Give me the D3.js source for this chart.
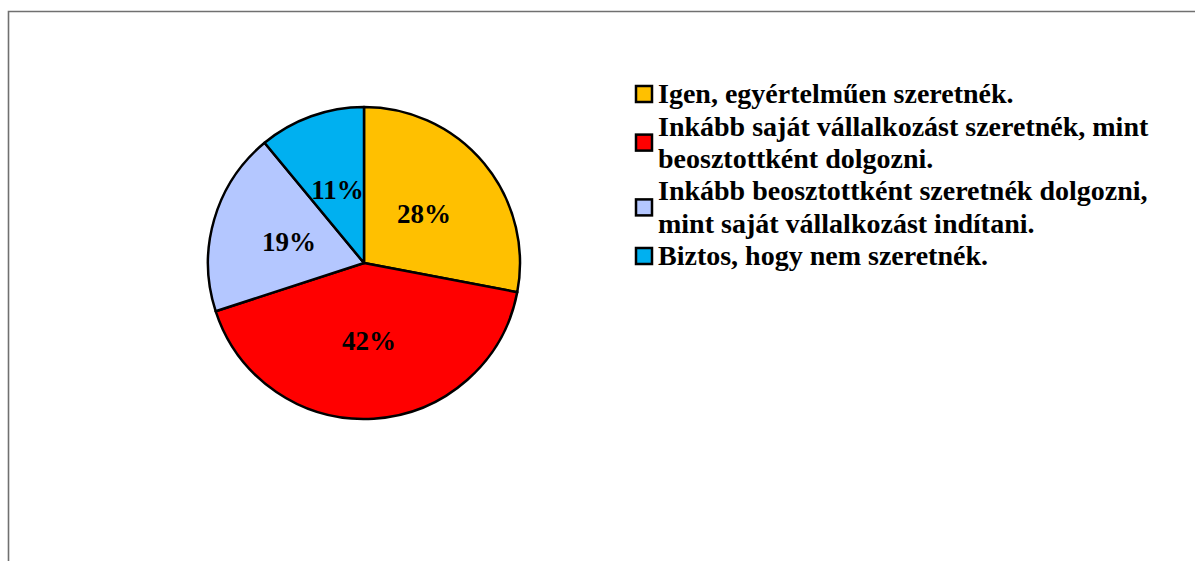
<!DOCTYPE html>
<html>
<head>
<meta charset="utf-8">
<script src="https://cdn.jsdelivr.net/npm/d3@7"></script>
<style>
  body { margin: 0; background: #ffffff; }
  svg { display: block; }
  .lbl { font-family: "Liberation Serif", "Times New Roman", serif; font-weight: bold; fill: #000; }
</style>
</head>
<body>
<script>
// chart data
var categories = [
  "Igen, egyértelműen szeretnék.",
  "Inkább saját vállalkozást szeretnék, mint beosztottként dolgozni.",
  "Inkább beosztottként szeretnék dolgozni, mint saját vállalkozást indítani.",
  "Biztos, hogy nem szeretnék."
];
var legend_lines = [
  ["Igen, egyértelműen szeretnék."],
  ["Inkább saját vállalkozást szeretnék, mint", "beosztottként dolgozni."],
  ["Inkább beosztottként szeretnék dolgozni,", "mint saját vállalkozást indítani."],
  ["Biztos, hogy nem szeretnék."]
];
var values = [28, 42, 19, 11];
var colors = ["#ffc000", "#ff0000", "#b4c7ff", "#00b0f0"];

var w = 1195, h = 561;

var svg = d3.select("body").append("svg")
  .attr("width", w)
  .attr("height", h);

// frame (top + left edge only, like the cropped screenshot)
svg.append("path")
  .attr("d", "M8.5," + h + "V11.5H" + w)
  .attr("fill", "none")
  .attr("stroke", "#707070")
  .attr("stroke-width", 1.6);

// pie
var cx = 364, cy = 263, r = 156;
var pie = d3.pie().sort(null).value(function(d){ return d; });
var arcs = pie(values);
var arc = d3.arc().innerRadius(0).outerRadius(r);
var label_arc = d3.arc().innerRadius(r * 0.5).outerRadius(r * 0.5);

var g_pie = svg.append("g")
  .attr("transform", "translate(" + cx + "," + cy + ")");

g_pie.selectAll("path")
  .data(arcs)
  .enter()
  .append("path")
  .attr("d", arc)
  .attr("fill", function(d, i){ return colors[i]; })
  .attr("stroke", "#000")
  .attr("stroke-width", 2.5)
  .attr("stroke-linejoin", "round");

g_pie.selectAll("text")
  .data(arcs)
  .enter()
  .append("text")
  .attr("class", "lbl")
  .attr("transform", function(d){ return "translate(" + label_arc.centroid(d) + ")"; })
  .attr("text-anchor", "middle")
  .attr("dy", "0.35em")
  .style("font-size", "27px")
  .text(function(d){ return d.data + "%"; });

// legend
var line_h = 32.4;
var first_y = 94;
var sw = 16;
var lx = 636, tx = 658;
var line_idx = 0;
var g_leg = svg.append("g");
legend_lines.forEach(function(lines, i){
  var y0 = first_y + line_idx * line_h;
  var y_mid = y0 + (lines.length - 1) * line_h / 2;
  g_leg.append("rect")
    .attr("x", lx)
    .attr("y", y_mid - sw / 2)
    .attr("width", sw)
    .attr("height", sw)
    .attr("fill", colors[i])
    .attr("stroke", "#000")
    .attr("stroke-width", 2.5);
  lines.forEach(function(t, j){
    g_leg.append("text")
      .attr("class", "lbl")
      .attr("x", tx)
      .attr("y", y0 + j * line_h)
      .attr("dy", "0.33em")
      .style("font-size", "28px")
      .text(t);
  });
  line_idx += lines.length;
});
</script>
</body>
</html>
